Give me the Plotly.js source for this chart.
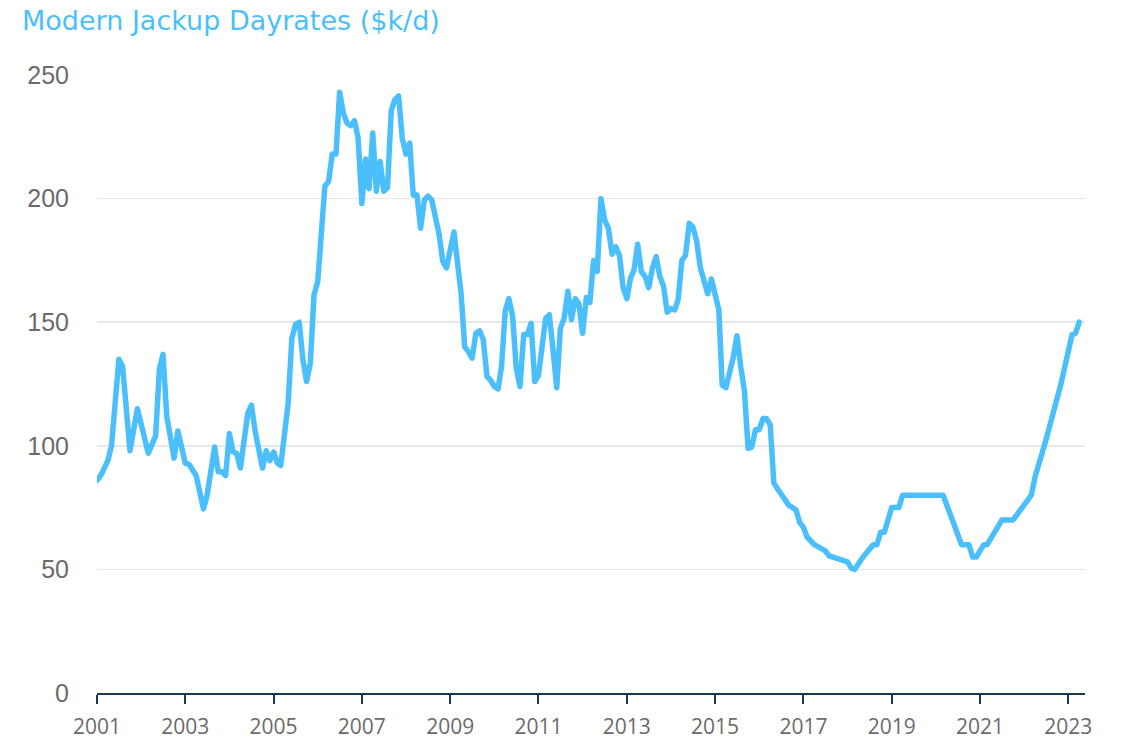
<!DOCTYPE html>
<html>
<head>
<meta charset="utf-8">
<script src="https://cdn.plot.ly/plotly-3.0.1.min.js"></script>
<style>
html,body{margin:0;padding:0;background:#fff;}
#chart{width:1125px;height:743px;}
path.js-line{stroke-linejoin:round !important;stroke-linecap:round !important;}
</style>
</head>
<body>
<div id="chart"></div>
<script>
const dates = [
"2001-01","2001-02","2001-04","2001-05","2001-07","2001-08","2001-10","2001-12",
"2002-03","2002-05","2002-06","2002-07","2002-08","2002-10","2002-11",
"2003-01","2003-02","2003-04","2003-06","2003-07","2003-09","2003-10","2003-11","2003-12",
"2004-01","2004-02","2004-03","2004-04","2004-06","2004-07","2004-08","2004-10","2004-11","2004-12",
"2005-01","2005-02","2005-03","2005-04","2005-05","2005-06","2005-07","2005-08","2005-09","2005-10","2005-11","2005-12",
"2006-01","2006-03","2006-04","2006-05","2006-06","2006-07","2006-08","2006-09","2006-10","2006-11","2006-12",
"2007-01","2007-02","2007-03","2007-04","2007-05","2007-06","2007-07","2007-08","2007-09","2007-10","2007-11","2007-12",
"2008-01","2008-02","2008-03","2008-04","2008-05","2008-06","2008-07","2008-08","2008-10","2008-11","2008-12",
"2009-02","2009-04","2009-05","2009-06","2009-07","2009-08","2009-09","2009-10","2009-11","2009-12",
"2010-01","2010-02","2010-03","2010-04","2010-05","2010-06","2010-07","2010-08","2010-09","2010-10","2010-11","2010-12",
"2011-01","2011-03","2011-04","2011-05","2011-06","2011-07","2011-08","2011-09","2011-10","2011-11","2011-12",
"2012-01","2012-02","2012-03","2012-04","2012-05","2012-06","2012-07","2012-08","2012-09","2012-10","2012-11","2012-12",
"2013-01","2013-02","2013-03","2013-04","2013-05","2013-06","2013-07","2013-08","2013-09","2013-10","2013-11","2013-12",
"2014-01","2014-02","2014-03","2014-04","2014-05","2014-06","2014-07","2014-08","2014-09","2014-11","2014-12",
"2015-02","2015-03","2015-04","2015-06","2015-07","2015-08","2015-09","2015-10","2015-11","2015-12",
"2016-01","2016-02","2016-03","2016-04","2016-05","2016-06","2016-09","2016-11","2016-12",
"2017-01","2017-02","2017-04","2017-06","2017-07","2017-08","2017-09","2017-11",
"2018-01","2018-02","2018-03","2018-05","2018-08","2018-09","2018-10","2018-11",
"2019-01","2019-03","2019-04","2020-03","2020-08","2020-10","2020-11","2020-12",
"2021-02","2021-03","2021-07","2021-10","2022-03","2022-04","2022-07","2022-11",
"2023-01","2023-02","2023-03","2023-04"
];
const dayrates = [
86,88,94,100,135,132,98,115,
97,104,131,137,112,95,106,
93,92.5,88,74.5,80,99.5,89.5,89.5,88,
105,97.5,97,91,113,116.5,106,91,98,94,
97.5,93,92,107,117,143.5,149,150,134.5,126,133.5,161,
166.5,205,207,218,218,243,234.5,230.5,229.5,231.5,224.5,
198,216,204,226.5,203,215,203,204.5,235.5,240,241.5,224.5,
218,222.5,201.5,201.5,188,199.5,201,199.5,185.5,174.5,172,
186.5,161.5,140,138,135.5,145.5,146.5,143,128,126.5,
124,123,132,154.5,159.5,152.5,131.5,124,145,145,149.5,126,
128.5,151.5,153,139,123.5,147.5,151.5,162.5,151,159.5,157.5,
145.5,160,158,175,170.5,200,191.5,188,177.5,180.5,177,164,
159.5,168,171,181.5,170.5,168.5,164,172,176.5,168.5,164.5,154,
155.5,155,159,175,177,190,188.5,183,172,161.5,167.5,
155,124.5,123.5,136,144.5,132,122,99,99.5,106.5,
106.5,111,111,108.5,85,82.5,76,74,69,
67,63,60,58,57.5,55.5,55,54,
53,50.5,50,54.5,60,60,65,65,
75,75,80,80,60,60,55,55,
60,60,70,70,80,87.5,102.5,125,
139,145,145.5,150
];
const xTickVals = ["2001-01-01","2003-01-01","2005-01-01","2007-01-01","2009-01-01","2011-01-01","2013-01-01","2015-01-01","2017-01-01","2019-01-01","2021-01-01","2023-01-01"];
const xTickText = ["2001","2003","2005","2007","2009","2011","2013","2015","2017","2019","2021","2023"];
const yTickVals = [0,50,100,150,200,250];
const titleText = "Modern Jackup Dayrates ($k/d)";

const trace = {
  x: dates.map(d => d + "-01"),
  y: dayrates,
  type: "scatter",
  mode: "lines",
  line: {color: "#4bbffc", width: 5.5},
  hoverinfo: "x+y"
};

const layout = {
  width: 1125, height: 743,
  margin: {l: 97, r: 40, t: 75, b: 50, pad: 0},
  paper_bgcolor: "#fff", plot_bgcolor: "#fff",
  showlegend: false,
  title: {
    text: titleText,
    font: {family: "DejaVu Sans, sans-serif", size: 27, color: "#4bbffc"},
    xref: "container", yref: "container",
    x: 22/1125, xanchor: "left",
    y: 1 - 21/743, yanchor: "middle"
  },
  xaxis: {
    type: "date",
    range: ["2001-01-01", "2023-05-19"],
    tickmode: "array", tickvals: xTickVals, ticktext: xTickText,
    showgrid: false, zeroline: false,
    showline: true, linecolor: "#1d3a4c", linewidth: 2,
    ticks: "outside", ticklen: 9, tickwidth: 2, tickcolor: "#1d3a4c",
    tickfont: {family: "Open Sans, sans-serif", size: 21, color: "#6b6b6b"},
    ticklabelstandoff: 5
  },
  yaxis: {
    range: [0, 250],
    tickmode: "array", tickvals: yTickVals,
    showgrid: true, gridcolor: "#e8e8e8", gridwidth: 1.5,
    zeroline: false, showline: false, ticks: "",
    tickfont: {family: "Liberation Sans, Arial, sans-serif", size: 25, color: "#6b6b6b"},
    ticklabelstandoff: 27
  }
};

Plotly.newPlot("chart", [trace], layout, {displayModeBar: false, staticPlot: true});
</script>
</body>
</html>
